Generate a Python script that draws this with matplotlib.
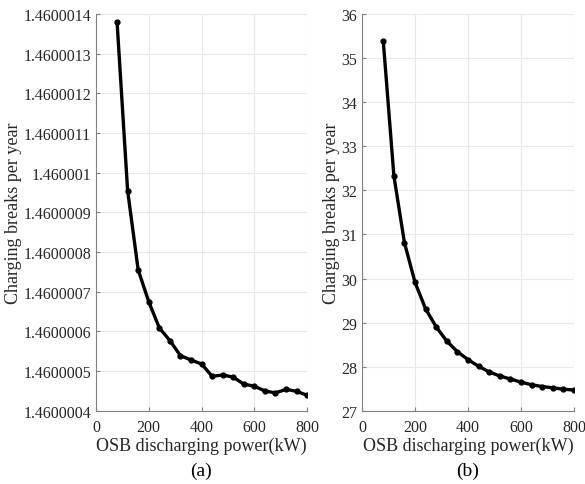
import matplotlib.pyplot as plt

plt.rcParams['font.family'] = ['Liberation Serif', 'DejaVu Serif']
plt.rcParams['font.size'] = 11

# OSB discharging power (kW)
power = [80, 120, 160, 200, 240, 280, 320, 360, 400, 440,
         480, 520, 560, 600, 640, 680, 720, 760, 800]

# (a) charging breaks per year
breaks_a = [1.46000138, 1.460000955, 1.460000755, 1.460000675, 1.460000609,
            1.460000577, 1.460000539, 1.460000528, 1.460000518, 1.460000487,
            1.460000490, 1.460000485, 1.460000467, 1.460000462, 1.460000450,
            1.460000445, 1.460000454, 1.460000449, 1.460000439]
ticks_a = [1.4600004, 1.4600005, 1.4600006, 1.4600007, 1.4600008, 1.4600009,
           1.460001, 1.4600011, 1.4600012, 1.4600013, 1.4600014]
labels_a = ['1.4600004', '1.4600005', '1.4600006', '1.4600007', '1.4600008',
            '1.4600009', '1.460001', '1.4600011', '1.4600012', '1.4600013',
            '1.4600014']

# (b) charging breaks per year
breaks_b = [35.38, 32.33, 30.81, 29.91, 29.31, 28.90, 28.58, 28.34, 28.16, 28.01,
            27.88, 27.79, 27.72, 27.65, 27.59, 27.55, 27.52, 27.49, 27.47]
ticks_b = [27, 28, 29, 30, 31, 32, 33, 34, 35, 36]

xticks = [0, 200, 400, 600, 800]

fig = plt.figure(figsize=(5.85, 4.85), dpi=100)
ax1 = fig.add_axes([0.164, 0.151, 0.361, 0.818])
ax2 = fig.add_axes([0.619, 0.151, 0.362, 0.818])

for ax, y in [(ax1, breaks_a), (ax2, breaks_b)]:
    ax.plot(power, y, color='black', lw=2.4, marker='o', ms=3.5)
    ax.set_xlim(0, 800)
    ax.set_xticks(xticks)
    ax.grid(True, color='#e8e8e8', lw=0.8)
    ax.set_axisbelow(True)
    for s in ['top', 'right']:
        ax.spines[s].set_visible(False)
    for s in ['left', 'bottom']:
        ax.spines[s].set_color('#808080')
        ax.spines[s].set_linewidth(0.8)
    ax.tick_params(direction='in', length=3, color='#808080', labelsize=11.5,
                   labelcolor='#262626')
    ax.tick_params(axis='x', pad=6)
    ax.set_xlabel('OSB discharging power(kW)', fontsize=13, color='#262626', labelpad=1)
    ax.set_ylabel('Charging breaks per year', fontsize=13, color='#262626', labelpad=1)

ax1.set_ylim(ticks_a[0], ticks_a[-1])
ax1.set_yticks(ticks_a)
ax1.set_yticklabels(labels_a)

ax2.set_ylim(27, 36)
ax2.set_yticks(ticks_b)

fig.text(0.343, 0.018, '(a)', ha='center', fontsize=14)
fig.text(0.800, 0.018, '(b)', ha='center', fontsize=14)

fig.savefig('out.png', dpi=100)
